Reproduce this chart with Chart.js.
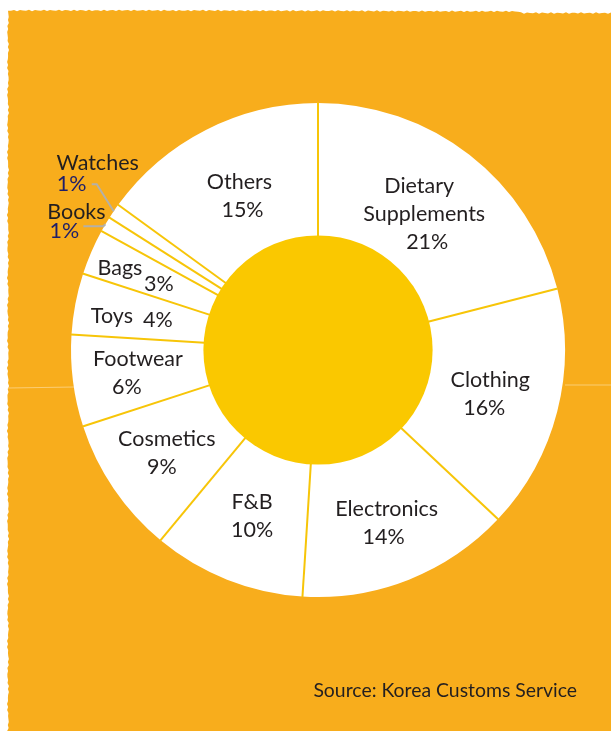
<!DOCTYPE html>
<html>
<head>
<meta charset="utf-8">
<script src="https://cdn.jsdelivr.net/npm/chart.js@4.4.1/dist/chart.umd.min.js"></script>
<style>
  html, body { margin: 0; padding: 0; background: #ffffff; }
  #wrap { position: relative; width: 611px; height: 731px; }
</style>
</head>
<body>
<div id="wrap"><canvas id="c" width="611" height="731"></canvas></div>
<script>
// Share of overseas direct purchases by product category (%)
const categories = ['Dietary Supplements', 'Clothing', 'Electronics', 'F&B', 'Cosmetics',
                    'Footwear', 'Toys', 'Bags', 'Books', 'Watches', 'Others'];
const shares = [21, 16, 14, 10, 9, 6, 4, 3, 1, 1, 15];
const sourceNote = 'Source: Korea Customs Service';

// How each slice label is laid out (radius as a fraction of the outer radius,
// pctDx nudges the percentage line sideways)
const labelLayout = {
  'Dietary Supplements': { r: 0.695, lines: ['Dietary', 'Supplements'], dx: [-4, 1, 4] },
  'Clothing':    { r: 0.72, pctDx: -6 },
  'Electronics': { r: 0.755, pctDx: -3 },
  'F&B':         { r: 0.725 },
  'Cosmetics':   { r: 0.74, pctDx: -5 },
  'Footwear':    { r: 0.735, pctDx: -11 },
  'Toys':        { r: 0.775, inline: true },
  'Bags':        { r: 0.79, stagger: true },
  'Books':       { outside: true, elbow: [-2, 2], end: [-22, 2], name: [-29, -12], pct: [-41, 7] },
  'Watches':     { outside: true, elbow: [-17, -27], end: [-22, -27], name: [-16, -48], pct: [-42, -27] },
  'Others':      { r: 0.70, pctDx: 3 }
};

const ORANGE = '#F8AD1C';
const YELLOW = '#FAC800';
const RULE = '#F7C508';
const INK = '#231F20';
const NAVY = '#1E1E6A';
const FONT = 'Lato, "Open Sans", sans-serif';

const paperPlugin = {
  id: 'paper',
  beforeDraw(chart) {
    const ctx = chart.ctx;
    const W = chart.width, H = chart.height;
    ctx.save();
    ctx.fillStyle = '#ffffff';
    ctx.fillRect(0, 0, W, H);
    // painted sheet with a finely ragged top and left edge
    ctx.beginPath();
    ctx.moveTo(W, H);
    ctx.lineTo(8, H);
    for (let y = H; y >= 12; y -= 3) {
      ctx.lineTo(8 + 0.6 * Math.sin(y * 0.9) + 0.5 * Math.sin(y * 2.3), y);
    }
    for (let x = 8; x <= W; x += 3) {
      ctx.lineTo(x, 11 + 0.7 * Math.sin(x * 0.83) + 0.6 * Math.sin(x * 2.1) + (x > 520 ? 1.5 : 0));
    }
    ctx.closePath();
    ctx.fillStyle = ORANGE;
    ctx.fill();
    // faint fold line across the sheet
    ctx.strokeStyle = 'rgba(255,245,225,0.45)';
    ctx.lineWidth = 1;
    ctx.beginPath();
    ctx.moveTo(8, 388); ctx.lineTo(75, 387);
    ctx.moveTo(565, 385); ctx.lineTo(W, 385);
    ctx.stroke();
    ctx.restore();
  },
  afterDatasetsDraw(chart) {
    const ctx = chart.ctx;
    const meta = chart.getDatasetMeta(0);
    const arcs = meta.data;
    if (!arcs.length) return;
    const cx = arcs[0].x, cy = arcs[0].y;
    const outerR = arcs[0].outerRadius, innerR = arcs[0].innerRadius;
    ctx.save();

    // slice separators
    ctx.strokeStyle = RULE;
    ctx.lineWidth = 2;
    arcs.forEach(a => {
      const t = a.startAngle;
      ctx.beginPath();
      ctx.moveTo(cx + innerR * Math.cos(t), cy + innerR * Math.sin(t));
      ctx.lineTo(cx + (outerR + 0.5) * Math.cos(t), cy + (outerR + 0.5) * Math.sin(t));
      ctx.stroke();
    });

    // solid centre disc
    ctx.beginPath();
    ctx.arc(cx, cy, innerR + 1, 0, Math.PI * 2);
    ctx.fillStyle = YELLOW;
    ctx.fill();

    // labels
    ctx.font = '21.5px ' + FONT;
    ctx.textAlign = 'center';
    ctx.textBaseline = 'middle';
    const lineH = 28;
    arcs.forEach((a, i) => {
      const name = categories[i];
      const pct = shares[i] + '%';
      const lay = labelLayout[name] || { r: 0.72 };
      const mid = (a.startAngle + a.endAngle) / 2;
      if (lay.outside) {
        const ex = cx + outerR * Math.cos(mid), ey = cy + outerR * Math.sin(mid);
        ctx.strokeStyle = '#B4B0A8';
        ctx.lineWidth = 2;
        ctx.beginPath();
        ctx.moveTo(ex, ey);
        ctx.lineTo(ex + lay.elbow[0], ey + lay.elbow[1]);
        ctx.lineTo(ex + lay.end[0], ey + lay.end[1]);
        ctx.stroke();
        ctx.fillStyle = INK;
        ctx.fillText(name, ex + lay.name[0], ey + lay.name[1]);
        ctx.fillStyle = NAVY;
        ctx.fillText(pct, ex + lay.pct[0], ey + lay.pct[1]);
        return;
      }
      const px = cx + lay.r * outerR * Math.cos(mid);
      const py = cy + lay.r * outerR * Math.sin(mid);
      ctx.fillStyle = INK;
      if (lay.inline) {
        ctx.textAlign = 'right';
        ctx.fillText(name, px + 3, py + 2);
        ctx.textAlign = 'left';
        ctx.fillText(pct, px + 13, py + 6);
        ctx.textAlign = 'center';
      } else if (lay.stagger) {
        ctx.fillText(name, px - 19, py - 4);
        ctx.fillText(pct, px + 20, py + 12);
      } else {
        const lines = (lay.lines || [name]).concat([pct]);
        const top = py - (lines.length - 1) * lineH / 2;
        lines.forEach((s, k) => {
          let dx = lay.dx ? lay.dx[k] : 0;
          if (k === lines.length - 1 && lay.pctDx) dx += lay.pctDx;
          ctx.fillText(s, px + dx, top + k * lineH);
        });
      }
    });

    // source note
    ctx.font = '19.4px ' + FONT;
    ctx.textAlign = 'right';
    ctx.fillStyle = INK;
    ctx.fillText(sourceNote, 577, 691);
    ctx.restore();
  }
};

new Chart(document.getElementById('c'), {
  type: 'doughnut',
  data: {
    labels: categories,
    datasets: [{
      data: shares,
      backgroundColor: '#ffffff',
      borderWidth: 0,
      hoverOffset: 0
    }]
  },
  options: {
    responsive: false,
    animation: false,
    devicePixelRatio: 1,
    cutout: '46%',
    layout: { padding: { left: 71, right: 46, top: 103, bottom: 134 } },
    plugins: { legend: { display: false }, tooltip: { enabled: false } }
  },
  plugins: [paperPlugin]
});
</script>
</body>
</html>
